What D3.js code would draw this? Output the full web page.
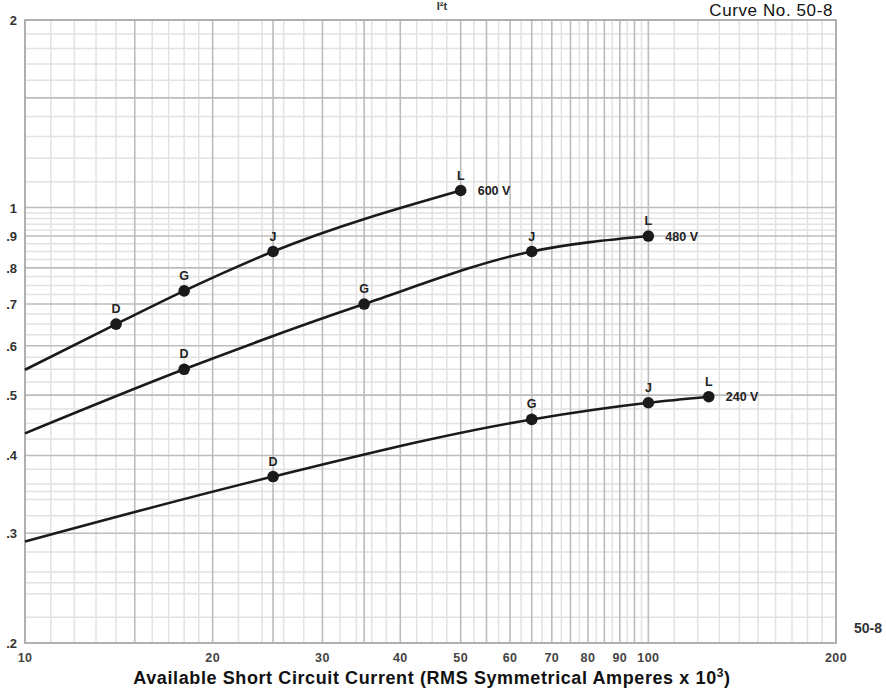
<!DOCTYPE html>
<html>
<head>
<meta charset="utf-8">
<script src="https://cdn.jsdelivr.net/npm/d3@7"></script>
<style>
  html, body { margin: 0; padding: 0; background: #fff; }
  svg { display: block; }
  text { font-family: "Liberation Sans", Arial, Helvetica, sans-serif; }
</style>
</head>
<body>
<svg id="chart" width="886" height="691"></svg>
<script>
// I²t let-through curves, log-log grid
const xTickLabels = [10, 20, 30, 40, 50, 60, 70, 80, 90, 100, 200];
const yTickLabels = [2, 1, 0.9, 0.8, 0.7, 0.6, 0.5, 0.4, 0.3, 0.2];

const xGridMajor = [15, 20, 25, 30, 35, 40, 50, 55, 60, 65, 70, 75, 80, 85, 90, 95, 100];
const xGridMinor = [11, 12, 13, 14, 16, 17, 18, 19, 22, 24, 26, 28, 32, 34, 36, 38,
  42.5, 45, 47.5, 52.5, 57.5, 62.5, 67.5, 72.5, 77.5, 82.5, 87.5, 92.5, 97.5,
  110, 120, 130, 140, 150, 160, 170, 180, 190];
const yGridMajor = [1.5, 1, 0.9, 0.8, 0.7, 0.6, 0.5, 0.4, 0.3];
const yGridMinor = [1.9, 1.8, 1.7, 1.6, 1.4, 1.3, 1.2, 1.1,
  0.98, 0.96, 0.94, 0.92, 0.875, 0.85, 0.825, 0.775, 0.75, 0.725,
  0.675, 0.65, 0.625, 0.575, 0.55, 0.525, 0.475, 0.45, 0.425,
  0.38, 0.36, 0.35, 0.34, 0.32, 0.28, 0.26, 0.25, 0.24, 0.22];

// curve values: current (kA) and I²t, with class letters at marked points
const v600x = [10, 14, 18, 25, 50];
const v600y = [0.549, 0.65, 0.735, 0.85, 1.065];
const v600lab = ["", "D", "G", "J", "L"];

const v480x = [10, 18, 35, 65, 100];
const v480y = [0.434, 0.55, 0.70, 0.85, 0.90];
const v480lab = ["", "D", "G", "J", "L"];

const v240x = [10, 25, 65, 100, 125];
const v240y = [0.291, 0.37, 0.457, 0.486, 0.497];
const v240lab = ["", "D", "G", "J", "L"];

const seriesNames = ["600 V", "480 V", "240 V"];

const series = [
  { name: seriesNames[0], xs: v600x, ys: v600y, labs: v600lab },
  { name: seriesNames[1], xs: v480x, ys: v480y, labs: v480lab },
  { name: seriesNames[2], xs: v240x, ys: v240y, labs: v240lab }
];

const svg = d3.select("#chart");
const pLeft = 25, pRight = 836, pTop = 20, pBottom = 643;

const x = d3.scaleLog().domain([10, 200]).range([pLeft, pRight]);
const y = d3.scaleLog().domain([0.2, 2]).range([pBottom, pTop]);

const grid = svg.append("g");
grid.append("g").selectAll("line").data(xGridMinor).join("line")
  .attr("x1", d => x(d)).attr("x2", d => x(d))
  .attr("y1", pTop).attr("y2", pBottom)
  .attr("stroke", "#e2e2e2").attr("stroke-width", 1.5);
grid.append("g").selectAll("line").data(yGridMinor).join("line")
  .attr("y1", d => y(d)).attr("y2", d => y(d))
  .attr("x1", pLeft).attr("x2", pRight)
  .attr("stroke", "#e2e2e2").attr("stroke-width", 1.5);
grid.append("g").selectAll("line").data(xGridMajor).join("line")
  .attr("x1", d => x(d)).attr("x2", d => x(d))
  .attr("y1", pTop).attr("y2", pBottom)
  .attr("stroke", "#bcbcbc").attr("stroke-width", 1.6);
grid.append("g").selectAll("line").data(yGridMajor).join("line")
  .attr("y1", d => y(d)).attr("y2", d => y(d))
  .attr("x1", pLeft).attr("x2", pRight)
  .attr("stroke", "#bcbcbc").attr("stroke-width", 1.6);

svg.append("rect")
  .attr("x", pLeft).attr("y", pTop)
  .attr("width", pRight - pLeft).attr("height", pBottom - pTop)
  .attr("fill", "none").attr("stroke", "#b0b0b0").attr("stroke-width", 2);

// axis labels
const fmtY = d => d >= 1 ? String(d) : String(d).replace(/^0/, "");
svg.append("g").selectAll("text").data(yTickLabels).join("text")
  .attr("x", 17).attr("y", d => y(d) + 5)
  .attr("text-anchor", "end")
  .attr("font-size", 13).attr("font-weight", "bold").attr("fill", "#333")
  .text(fmtY);

svg.append("g").selectAll("text").data(xTickLabels).join("text")
  .attr("x", d => x(d)).attr("y", 662)
  .attr("text-anchor", "middle")
  .attr("font-size", 12.5).attr("font-weight", "bold").attr("fill", "#444")
  .attr("letter-spacing", 0.4)
  .text(d => d);

const title = svg.append("text")
  .attr("x", 432).attr("y", 684)
  .attr("text-anchor", "middle")
  .attr("font-size", 18).attr("font-weight", "bold").attr("fill", "#111")
  .attr("letter-spacing", 0.6);
title.append("tspan").text("Available Short Circuit Current (RMS Symmetrical Amperes x 10");
title.append("tspan").attr("dy", -7).attr("font-size", 12).text("3");
title.append("tspan").attr("dy", 7).text(")");

svg.append("text").attr("x", 442).attr("y", 10)
  .attr("text-anchor", "middle").attr("font-size", 11).attr("font-weight", "bold")
  .attr("fill", "#333").text("I²t");

svg.append("text").attr("x", 833).attr("y", 16)
  .attr("text-anchor", "end").attr("font-size", 17).attr("fill", "#111")
  .attr("letter-spacing", 0.6)
  .text("Curve No. 50-8");

svg.append("text").attr("x", 868).attr("y", 633)
  .attr("text-anchor", "middle").attr("font-size", 14).attr("font-weight", "bold")
  .attr("fill", "#333").text("50-8");

// curves
const line = d3.line().x(d => x(d.x)).y(d => y(d.y)).curve(d3.curveMonotoneX);
series.forEach(s => {
  const pts = s.xs.map((v, i) => ({ x: v, y: s.ys[i], lab: s.labs[i] }));
  const g = svg.append("g");
  g.append("path").datum(pts).attr("d", line)
    .attr("fill", "none").attr("stroke", "#1a1a1a").attr("stroke-width", 2.6);
  const marked = pts.filter(p => p.lab);
  g.selectAll("circle").data(marked).join("circle")
    .attr("cx", d => x(d.x)).attr("cy", d => y(d.y)).attr("r", 5.8)
    .attr("fill", "#1a1a1a");
  g.selectAll("text").data(marked).join("text")
    .attr("x", d => x(d.x)).attr("y", d => y(d.y) - 11)
    .attr("text-anchor", "middle").attr("font-size", 12.5).attr("font-weight", "bold")
    .attr("fill", "#222").text(d => d.lab);
  const last = pts[pts.length - 1];
  g.append("text").attr("x", x(last.x) + 17).attr("y", y(last.y) + 4.5)
    .attr("font-size", 12.5).attr("font-weight", "bold").attr("fill", "#222")
    .text(s.name);
});
</script>
</body>
</html>
